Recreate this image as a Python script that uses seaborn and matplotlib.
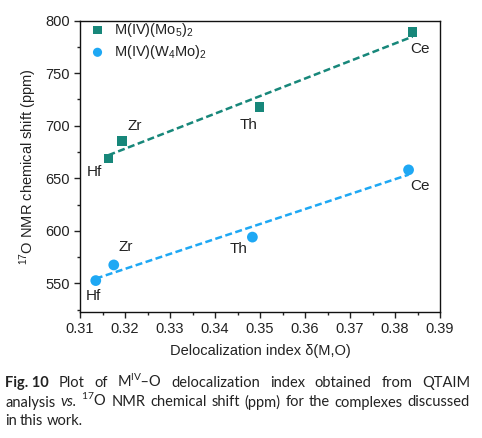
import matplotlib
matplotlib.use("Agg")
import matplotlib.pyplot as plt
import seaborn as sns
from matplotlib.ticker import MultipleLocator

# values
metals = ["Hf", "Zr", "Th", "Ce"]
di_mo5 = [0.3163, 0.3193, 0.3499, 0.3839]
shift_mo5 = [668.8, 685.6, 718.0, 789.5]
di_w4mo = [0.3135, 0.3175, 0.3483, 0.3830]
shift_w4mo = [552.6, 567.5, 594.0, 658.0]
x_ticks = [0.31, 0.32, 0.33, 0.34, 0.35, 0.36, 0.37, 0.38, 0.39]
y_ticks = [550, 600, 650, 700, 750, 800]

# label offsets from each point, in pixels (layout only)
off_mo5 = [(-14, -13), (13, 15), (-11, -18), (7, -17)]
off_w4mo = [(-2, -15), (12, 18), (-14, -12), (11, -16)]

teal = "#17877a"
blue = "#1ea8f4"

sns.set_theme(style="ticks")
plt.rcParams["font.family"] = ["Liberation Sans", "DejaVu Sans"]
plt.rcParams["axes.linewidth"] = 1.0
plt.rcParams["xtick.major.width"] = 1.0
plt.rcParams["ytick.major.width"] = 1.0
plt.rcParams["xtick.minor.width"] = 1.0
plt.rcParams["ytick.minor.width"] = 1.0
plt.rcParams["xtick.major.size"] = 4
plt.rcParams["ytick.major.size"] = 4
plt.rcParams["xtick.minor.size"] = 2
plt.rcParams["ytick.minor.size"] = 2
plt.rcParams["xtick.color"] = "#222222"
plt.rcParams["ytick.color"] = "#222222"
plt.rcParams["axes.edgecolor"] = "#111111"

fig = plt.figure(figsize=(4.82, 4.38), dpi=100)
ax = fig.add_axes([0.166, 0.2884, 0.747, 0.6643])

sns.regplot(x=di_mo5, y=shift_mo5, ci=None, scatter=False, ax=ax,
            line_kws=dict(color=teal, lw=1.8, ls=(0, (2.8, 1.4))))
sns.regplot(x=di_w4mo, y=shift_w4mo, ci=None, scatter=False, ax=ax,
            line_kws=dict(color=blue, lw=1.8, ls=(0, (2.8, 1.4))))
sns.scatterplot(x=di_mo5, y=shift_mo5, marker="s", s=48, color=teal,
                edgecolor="none", ax=ax, label=r"M(IV)(Mo$\mathregular{_5}$)$\mathregular{_2}$", zorder=3)
sns.scatterplot(x=di_w4mo, y=shift_w4mo, marker="o", s=60, color=blue,
                edgecolor="none", ax=ax, label=r"M(IV)(W$\mathregular{_4}$Mo)$\mathregular{_2}$", zorder=3)

for xs, ys, offs in [(di_mo5, shift_mo5, off_mo5), (di_w4mo, shift_w4mo, off_w4mo)]:
    for m, x, y, (dx, dy) in zip(metals, xs, ys, offs):
        ax.annotate(m, (x, y), xytext=(dx, dy), textcoords="offset pixels",
                    ha="center", va="center", fontsize=11, color="#222222")

ax.set_xlim(0.31, 0.39)
ax.set_ylim(523, 800)
ax.set_xticks(x_ticks)
ax.set_yticks(y_ticks)
ax.set_xticklabels([f"{t:.2f}" for t in x_ticks])
ax.xaxis.set_minor_locator(MultipleLocator(0.005))
ax.yaxis.set_minor_locator(MultipleLocator(25))
ax.tick_params(labelsize=10.5, labelcolor="#222222")
ax.tick_params(which="both", top=False, right=False, direction="out")
for s in ax.spines.values():
    s.set_visible(True)
ax.set_xlabel("Delocalization index δ(M,O)", fontsize=10.5, color="#222222", labelpad=6)
ax.set_ylabel(r"$\mathregular{^{17}}$O NMR chemical shift (ppm)", fontsize=10.5, color="#222222", labelpad=4)

ax.legend(loc="upper left", bbox_to_anchor=(0.0, 1.03), frameon=False, fontsize=10.5,
          handletextpad=0.5, borderaxespad=0.2, labelspacing=0.3, handlelength=1.2,
          markerscale=0.85, labelcolor="#222222")

# caption below the chart, justified like the journal layout
cap_font = "Lato"
cap_size = 10.5
rend = fig.canvas.get_renderer()
W = fig.bbox.width
H = fig.bbox.height


def put_line(tokens, y_px, x0_px, x1_px, justify):
    texts = []
    for s, kw in tokens:
        t = fig.text(0, 1 - y_px / H, s, fontsize=cap_size, va="baseline", ha="left",
                     family=cap_font, color="#222222", **kw)
        texts.append(t)
    widths = [t.get_window_extent(rend).width for t in texts]
    if justify:
        gap = ((x1_px - x0_px) - sum(widths)) / (len(texts) - 1)
    else:
        gap = cap_size * 0.3
    x = x0_px
    for t, w in zip(texts, widths):
        t.set_x(x / W)
        x += w + gap


bold = {"weight": "bold"}
plain = {}
line1 = [("Fig. 10", bold), ("Plot", plain), ("of", plain),
         (r"M$\mathregular{^{IV}}$–O", plain), ("delocalization", plain), ("index", plain),
         ("obtained", plain), ("from", plain), ("QTAIM", plain)]
line2 = [("analysis", plain), ("vs.", {"style": "italic"}), (r"$\mathregular{^{17}}$O", plain),
         ("NMR", plain), ("chemical", plain), ("shift", plain), ("(ppm)", plain), ("for", plain),
         ("the", plain), ("complexes", plain), ("discussed", plain)]
line3 = [("in", plain), ("this", plain), ("work.", plain)]
put_line(line1, 387, 5, 470, True)
put_line(line2, 406.5, 5, 470, True)
put_line(line3, 425, 5, 470, False)

fig.savefig("out.png", dpi=100)
